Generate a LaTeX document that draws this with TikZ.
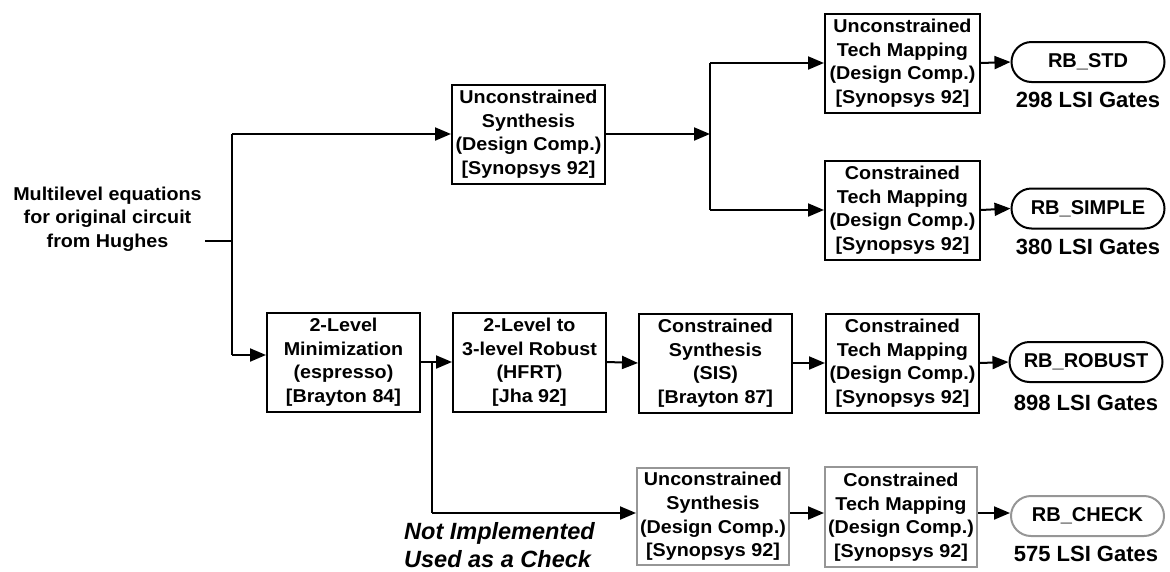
\documentclass[tikz,border=0pt]{standalone}
\usepackage{fontspec}
\setmainfont{Liberation Sans}
\newfontfamily\boxfont{Liberation Sans}[FakeStretch=1.06]
\usetikzlibrary{arrows.meta,shapes.misc}
\definecolor{boxgray}{RGB}{150,150,150}
\begin{document}
\begin{tikzpicture}[x=1pt,y=-1pt,
  proc/.style={draw, line width=2pt, minimum width=153pt, minimum height=99pt,
    inner sep=0pt, align=center, font=\boxfont\bfseries\fontsize{18.6}{23.6}\selectfont},
  gproc/.style={proc, draw=boxgray},
  outp/.style={rounded rectangle, draw, line width=2pt, minimum width=153pt,
    minimum height=40pt, inner sep=0pt, font=\bfseries\fontsize{20}{24}\selectfont},
  goutp/.style={outp, draw=boxgray},
  gates/.style={inner sep=0pt, font=\bfseries\fontsize{22}{26}\selectfont},
  intext/.style={inner sep=0pt, align=center, font=\boxfont\bfseries\fontsize{18.6}{23.6}\selectfont},
  note/.style={inner sep=0pt, align=left, font=\bfseries\itshape\fontsize{23.5}{28.5}\selectfont},
  conn/.style={line width=2pt},
  arr/.style={conn, -{Triangle[length=16pt,width=13pt]}}]
\useasboundingbox (0,0) rectangle (1170,571);

% input
\node[intext] (in) at (107.5,219) {Multilevel equations\\for original circuit\\from Hughes};
\coordinate (inend) at (205,241);

% top row
\node[proc] (A) at (528.5,134) {Unconstrained\\Synthesis\\(Design Comp.)\\{[Synopsys 92]}};
\node[proc, minimum width=155pt] (B) at (902.5,63) {Unconstrained\\Tech Mapping\\(Design Comp.)\\{[Synopsys 92]}};
\node[proc, minimum width=155pt] (C) at (902.5,210) {Constrained\\Tech Mapping\\(Design Comp.)\\{[Synopsys 92]}};
\node[outp] (STD) at (1088,62) {RB\_STD};
\node[gates] (g1) at (1088,100) {298 LSI Gates};
\node[outp] (SIMPLE) at (1088,208.5) {RB\_SIMPLE};
\node[gates] (g2) at (1088,247) {380 LSI Gates};

% middle row
\node[proc] (D) at (343.5,362) {2-Level\\Minimization\\(espresso)\\{[Brayton 84]}};
\node[proc] (E) at (529.5,362) {2-Level to\\3-level Robust\\(HFRT)\\{[Jha 92]}};
\node[proc] (F) at (715.5,363) {Constrained\\Synthesis\\(SIS)\\{[Brayton 87]}};
\node[proc] (G) at (902.5,363) {Constrained\\Tech Mapping\\(Design Comp.)\\{[Synopsys 92]}};
\node[outp] (ROBUST) at (1086,362) {RB\_ROBUST};
\node[gates] (g3) at (1086,403) {898 LSI Gates};

% bottom row
\node[gproc, minimum width=152pt, minimum height=97pt] (H) at (713,516.5) {Unconstrained\\Synthesis\\(Design Comp.)\\{[Synopsys 92]}};
\node[gproc, minimum width=152pt, minimum height=100pt] (I) at (901,517) {Constrained\\Tech Mapping\\(Design Comp.)\\{[Synopsys 92]}};
\node[goutp] (CHECK) at (1087.5,516) {RB\_CHECK};
\node[gates] (g4) at (1086,554) {575 LSI Gates};
\node[note, anchor=west] (nt) at (404,545) {Not Implemented\\Used as a Check};

% junctions
\coordinate (jin) at (232,241);
\coordinate (jtop) at (232,134);
\coordinate (jbot) at (232,355);
\coordinate (j2) at (710,134);
\coordinate (j2t) at (710,63);
\coordinate (j2b) at (710,210);
\coordinate (j3) at (432,362);
\coordinate (j4) at (432,513);

% connectors
\draw[conn] (inend) -- (jin);
\draw[conn] (jtop) -- (jbot);
\draw[arr] (jtop) -- (A.west);
\draw[arr] (jbot) -- (D.west |- jbot);
\draw[arr] (A.east) -- (j2);
\draw[conn] (j2t) -- (j2b);
\draw[arr] (j2t) -- (B.west);
\draw[arr] (j2b) -- (C.west);
\draw[arr] (B.east) -- (STD.west);
\draw[arr] (C.east) -- (SIMPLE.west);
\draw[arr] (D.east) -- (E.west);
\draw[conn] (j3) -- (j4);
\draw[arr] (j4) -- (H.west |- j4);
\draw[arr] (E.east) -- (F.west);
\draw[arr] (F.east) -- (G.west);
\draw[arr] (G.east) -- (ROBUST.west);
\draw[arr] (H.east |- j4) -- (I.west |- j4);
\draw[arr] (I.east |- j4) -- (CHECK.west |- j4);
\end{tikzpicture}
\end{document}
